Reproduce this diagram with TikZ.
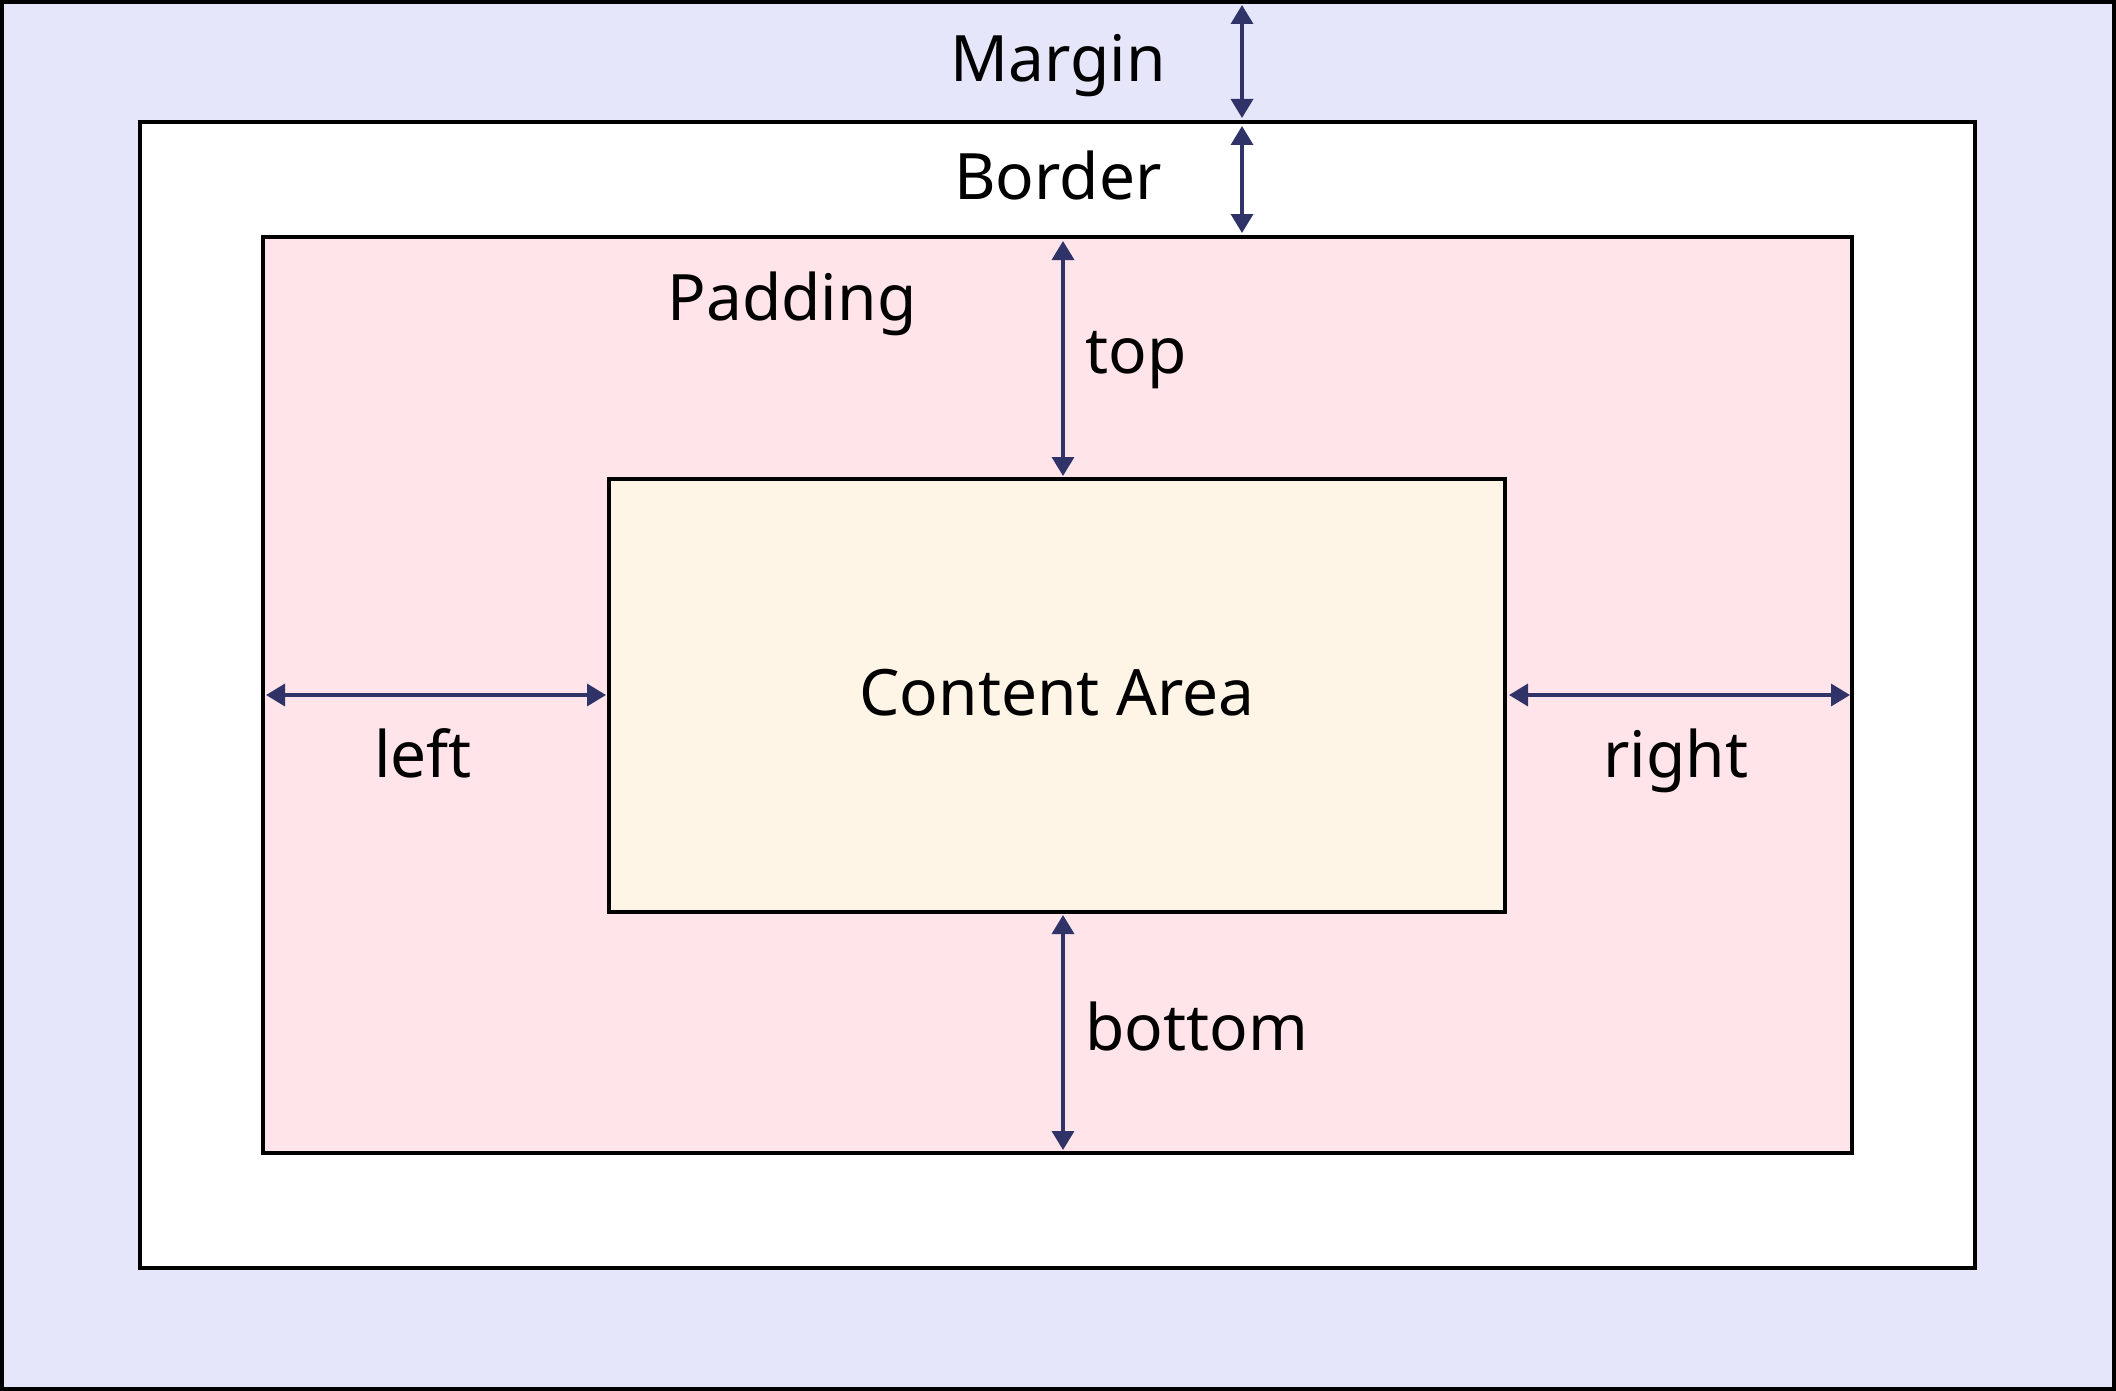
\documentclass[tikz,border=0pt]{standalone}
\usepackage{fontspec}
\setmainfont{Noto Sans}
\usetikzlibrary{arrows.meta}
\definecolor{marginc}{HTML}{E6E6FA}
\definecolor{paddingc}{HTML}{FFE4E9}
\definecolor{contentc}{HTML}{FFF5E6}
\definecolor{arrowc}{HTML}{2F3368}
\tikzset{
  boxline/.style={draw=black, line width=4.5pt},
  innerline/.style={draw=black, line width=4pt},
  dim/.style={draw=arrowc, line width=3.5pt, {Triangle[length=19pt,width=22pt]}-{Triangle[length=19pt,width=22pt]}},
  lbl/.style={inner sep=0pt, font=\fontsize{64}{76}\selectfont, text=black}
}
\begin{document}
\begin{tikzpicture}[x=1pt,y=-1pt]
\useasboundingbox (0,0) rectangle (2116,1391);
% boxes
\draw[boxline, fill=marginc] (2,2) rectangle (2114,1389);
\draw[boxline, fill=white] (140,122) rectangle (1975,1268);
\draw[innerline, fill=paddingc] (263,237) rectangle (1852,1153);
\node[innerline, fill=contentc, minimum width=896pt, minimum height=433pt, inner sep=0pt] (content) at (1057,695.5) {};
% coordinates for arrow ends
\coordinate (m1) at (1242,5);
\coordinate (m2) at (1242,118);
\coordinate (b1) at (1242,126);
\coordinate (b2) at (1242,233);
\coordinate (t1) at (1063,241);
\coordinate (t2) at (1063,476);
\coordinate (bo1) at (1063,915);
\coordinate (bo2) at (1063,1150);
\coordinate (l1) at (266,695);
\coordinate (l2) at (606,695);
\coordinate (r1) at (1509,695);
\coordinate (r2) at (1850,695);
\draw[dim] (m1) -- (m2);
\draw[dim] (b1) -- (b2);
\draw[dim] (t1) -- (t2);
\draw[dim] (bo1) -- (bo2);
\draw[dim] (l1) -- (l2);
\draw[dim] (r1) -- (r2);
% labels
\node[lbl, anchor=base] (margin) at (1058,82) {Margin};
\node[lbl, anchor=base] (border) at (1058,200) {Border};
\node[lbl, anchor=base] (padding) at (792,320) {Padding};
\node[lbl, anchor=base west] (top) at (1085,373) {top};
\node[lbl, anchor=base] (contentlbl) at (1057,715) {Content Area};
\node[lbl, anchor=base] (left) at (423,777) {left};
\node[lbl, anchor=base] (right) at (1676,777) {right};
\node[lbl, anchor=base west] (bottom) at (1085,1050) {bottom};
\end{tikzpicture}
\end{document}
